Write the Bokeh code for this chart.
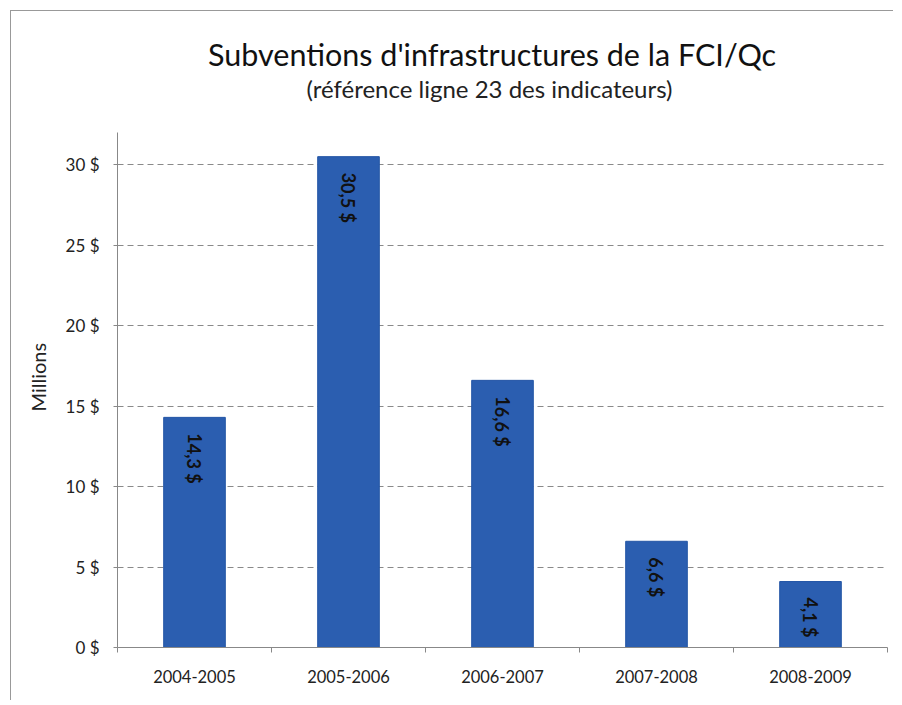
from bokeh.plotting import figure
from bokeh.models import FixedTicker, ColumnDataSource, LabelSet, Title, Range1d
from bokeh.core.properties import value
from bokeh.embed import file_html
from bokeh.resources import INLINE

title_text = "Subventions d'infrastructures de la FCI/Qc"
subtitle_text = "(référence ligne 23 des indicateurs)"
y_axis_title = "Millions"
categories = ["2004-2005", "2005-2006", "2006-2007", "2007-2008", "2008-2009"]
values = [14.3, 30.5, 16.6, 6.6, 4.1]
y_ticks = [0, 5, 10, 15, 20, 25, 30]
y_tick_labels = ["0 $", "5 $", "10 $", "15 $", "20 $", "25 $", "30 $"]
bar_labels = ["14,3 $", "30,5 $", "16,6 $", "6,6 $", "4,1 $"]

FONT = "Lato"
xs = list(range(1, len(categories) + 1))

p = figure(width=883, height=690, x_range=Range1d(0.5, len(categories) + 0.5),
           y_range=Range1d(0, 32), output_backend="svg", toolbar_location=None,
           min_border_left=102, min_border_right=7, min_border_bottom=54,
           min_border_top=121, margin=(10, 0, 0, 10))
p.styles = {"border-left": "1px solid #999", "border-top": "1px solid #999"}

t2 = Title(text=subtitle_text, align="left", offset=189, standoff=58.8,
           text_font=FONT, text_font_size="24px", text_font_style="normal",
           text_color="#222")
t1 = Title(text=title_text, align="left", offset=90.5, standoff=-58.2,
           text_font=FONT, text_font_size="30.5px", text_font_style="normal",
           text_color="#111")
p.add_layout(t2, "above")
p.add_layout(t1, "above")

src = ColumnDataSource(dict(x=xs, top=values, lab=bar_labels))
p.vbar(x="x", top="top", width=0.4, bottom=0, source=src,
       fill_color="#2b5eb0", line_color="#2456a6")

labels = LabelSet(x="x", y="top", text="lab", source=src, angle=-1.5708,
                  text_align="left", text_baseline="middle", y_offset=-16,
                  text_font=value(FONT), text_font_style="bold",
                  text_font_size="18px", text_color="#111")
p.add_layout(labels)

p.outline_line_color = None
p.xgrid.grid_line_color = None
p.ygrid.ticker = FixedTicker(ticks=y_ticks[1:])
p.ygrid.grid_line_color = "#8a8a8a"
p.ygrid.grid_line_dash = "6 4"
p.ygrid.grid_line_width = 1

p.xaxis.ticker = FixedTicker(ticks=xs, minor_ticks=[x - 0.5 for x in xs] + [len(xs) + 0.5])
p.xaxis.major_label_overrides = {x: c for x, c in zip(xs, categories)}
p.xaxis.major_tick_out = 0
p.xaxis.major_tick_in = 0
p.xaxis.minor_tick_out = 5
p.xaxis.minor_tick_in = 0
p.xaxis.major_label_standoff = 17
p.xaxis.axis_line_color = "#888"
p.xaxis.minor_tick_line_color = "#888"
p.xaxis.major_label_text_font = FONT
p.xaxis.major_label_text_font_size = "16.5px"
p.xaxis.major_label_text_color = "#222"

p.yaxis.ticker = FixedTicker(ticks=y_ticks)
p.yaxis.major_label_overrides = {t: l for t, l in zip(y_ticks, y_tick_labels)}
p.yaxis.major_tick_out = 4
p.yaxis.major_tick_in = 0
p.yaxis.minor_tick_out = 0
p.yaxis.minor_tick_in = 0
p.yaxis.major_label_standoff = 14
p.yaxis.axis_line_color = "#888"
p.yaxis.major_tick_line_color = "#888"
p.yaxis.major_label_text_font = FONT
p.yaxis.major_label_text_font_size = "17px"
p.yaxis.major_label_text_color = "#222"

ylab = Title(text=y_axis_title, align="left", offset=236, standoff=25,
             text_font=FONT, text_font_size="20px", text_font_style="normal",
             text_color="#222")
p.add_layout(ylab, "left")

open("out.html", "w").write(file_html(p, INLINE))
